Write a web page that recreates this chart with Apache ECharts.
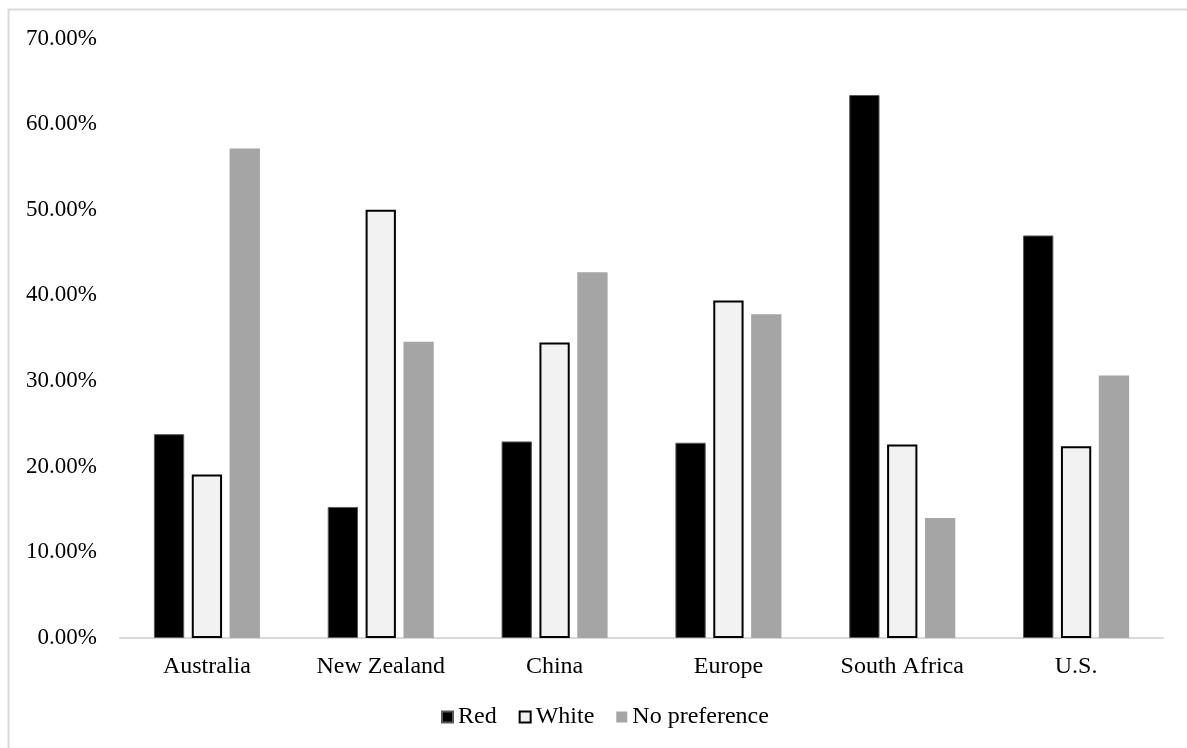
<!DOCTYPE html>
<html>
<head>
<meta charset="utf-8">
<script src="https://cdn.jsdelivr.net/npm/echarts@6/dist/echarts.min.js"></script>
<style>
  html, body { margin: 0; padding: 0; background: #fff; }
  #chart { width: 1187px; height: 748px; }
</style>
</head>
<body>
<div id="chart"></div>
<script>
// Wine colour preference by country (share of respondents, %)
const categories = ['Australia', 'New Zealand', 'China', 'Europe', 'South Africa', 'U.S.'];
const redShare = [23.8, 15.3, 22.95, 22.8, 63.4, 47.0];
const whiteShare = [19.1, 50.0, 34.5, 39.4, 22.6, 22.4];
const noPreferenceShare = [57.15, 34.6, 42.7, 37.8, 14.0, 30.65];
const seriesNames = ['Red', 'White', 'No preference'];

const FONT = "'Liberation Serif', 'Times New Roman', serif";
const chart = echarts.init(document.getElementById('chart'), null, { renderer: 'canvas' });

chart.setOption({
  backgroundColor: '#ffffff',
  animation: false,
  textStyle: { fontFamily: FONT, color: '#000' },
  graphic: [{
    type: 'rect',
    silent: true,
    shape: { x: 8.5, y: 9.5, width: 1200, height: 800 },
    style: { fill: 'none', stroke: '#d9d9d9', lineWidth: 2 }
  }],
  grid: { left: 120, right: 24, top: 38.5, bottom: 110, containLabel: false },
  legend: {
    left: 441,
    top: 705,
    padding: 0,
    itemWidth: 11,
    itemHeight: 11,
    itemGap: 22,
    icon: 'rect',
    data: seriesNames,
    textStyle: { fontFamily: FONT, fontSize: 24, color: '#000', padding: [0, 0, 0, 0] }
  },
  xAxis: {
    type: 'category',
    data: categories,
    axisLine: { show: true, lineStyle: { color: '#d9d9d9', width: 2 } },
    axisTick: { show: false },
    axisLabel: { fontFamily: FONT, fontSize: 24, color: '#000', margin: 17 },
    splitLine: { show: false }
  },
  yAxis: {
    type: 'value',
    min: 0,
    max: 70,
    interval: 10,
    axisLine: { show: false },
    axisTick: { show: false },
    splitLine: { show: false },
    axisLabel: {
      fontFamily: FONT, fontSize: 23, color: '#000', margin: 23,
      formatter: v => v.toFixed(2) + '%'
    }
  },
  series: [
    {
      name: seriesNames[0], type: 'bar', data: redShare,
      barGap: '25%', barCategoryGap: '39%',
      itemStyle: { color: '#000000', borderColor: '#595959', borderWidth: 1 }
    },
    {
      name: seriesNames[1], type: 'bar', data: whiteShare,
      barGap: '25%', barCategoryGap: '39%',
      itemStyle: { color: '#f2f2f2', borderColor: '#000000', borderWidth: 2 }
    },
    {
      name: seriesNames[2], type: 'bar', data: noPreferenceShare,
      barGap: '25%', barCategoryGap: '39%',
      itemStyle: { color: '#a5a5a5' }
    }
  ]
});
</script>
</body>
</html>
